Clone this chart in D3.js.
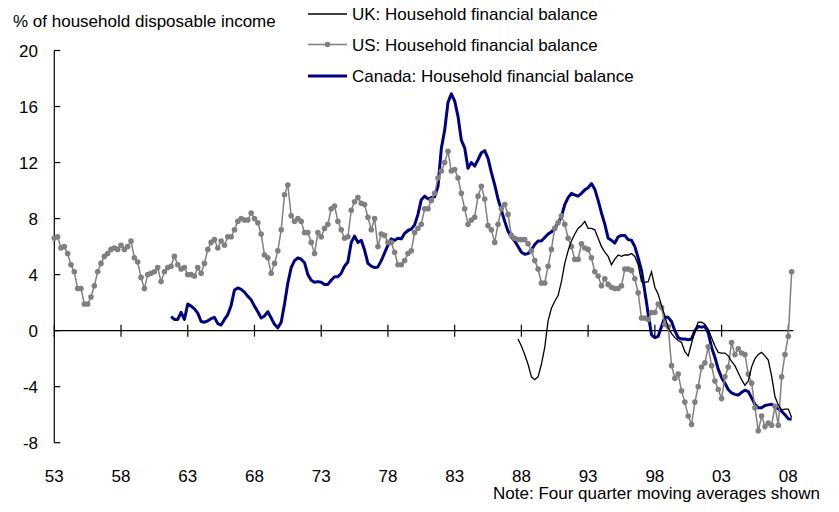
<!DOCTYPE html>
<html><head><meta charset="utf-8">
<script src="https://cdn.jsdelivr.net/npm/d3@7"></script>
<style>
body{margin:0;background:#fff}
text{font-family:"Liberation Sans",Arial,sans-serif;fill:#000}
</style>
</head><body>
<svg id="chart" width="839" height="512"></svg>
<script>
// Quarterly series, four-quarter moving averages; index 0 = 1953 Q1
const startYear = 1953;
const usStartQ = 0, canadaStartQ = 35, ukStartQ = 139;

const usValues = [
6.6,6.7,5.9,6.0,5.5,4.7,4.2,3.0,3.0,1.9,
1.9,2.4,3.2,4.2,4.8,5.3,5.5,5.8,5.9,5.8,
6.1,5.8,6.0,6.4,5.2,4.9,3.8,3.0,4.0,4.1,
4.2,4.5,3.5,4.2,4.5,4.6,5.3,4.7,4.4,4.5,
4.0,4.0,3.9,4.5,4.1,4.8,5.8,6.3,6.5,5.9,
6.4,6.1,6.7,6.7,7.2,7.8,8.0,7.9,7.9,8.4,
8.0,7.7,6.9,5.4,5.2,4.1,4.8,5.7,7.2,9.7,
10.4,8.2,7.8,8.0,7.8,7.0,7.0,6.3,5.5,7.0,
6.7,7.3,7.6,
8.7,8.9,7.8,7.2,6.6,6.7,8.6,9.2,9.5,9.1,
9.0,8.1,7.2,8.0,6.0,6.9,6.8,6.3,6.3,5.6,
4.7,4.7,5.0,5.5,5.7,7.0,7.3,7.6,8.7,8.7,
9.3,9.8,10.9,11.4,12.0,
12.8,11.4,11.5,10.9,9.8,8.7,7.6,7.9,8.1,9.6,
10.3,9.4,7.5,7.2,6.3,7.6,8.7,9.0,8.3,6.8,
6.6,6.5,6.5,6.5,6.2,5.7,5.0,4.4,3.4,3.4,
4.6,5.8,7.3,7.7,8.2,7.6,6.6,6.0,5.1,5.1,
6.2,5.9,5.8,5.2,4.2,3.9,
3.2,3.7,3.3,3.1,3.0,3.0,3.2,4.4,4.4,4.3,3.7,2.7,
0.9,0.9,0.8,1.3,1.3,1.9,1.65,0.45,0.3,-2.5,-3.4,-3.1,-4.3,-5.1,-6.1,-6.7,
-5.1,-4.0,-2.6,-2.3,-1.15,-2.5,-3.6,-4.2,-4.85,-3.3,-2.6,-0.85,-1.7,-1.3,-1.6,-1.7,-3.1,-3.75,-5.5,-7.15,
-6.1,-6.85,-6.6,-6.75,-5.4,-6.75,-3.3,-1.7,-0.4,4.2
];

const canadaValues = [
1.0,0.8,0.8,1.3,0.8,1.9,1.75,1.55,1.25,0.65,
0.6,0.7,0.85,0.95,0.5,0.4,0.8,1.15,1.8,2.9,
3.05,2.95,2.75,2.45,2.2,1.75,1.35,0.9,1.05,1.35,
0.9,0.45,0.2,0.6,1.9,3.4,4.5,5.0,5.2,5.1,
4.85,4.0,3.6,3.45,3.5,3.45,3.3,3.3,3.6,3.85,
3.85,4.1,4.6,4.9,6.3,6.75,6.3,6.45,5.75,4.8,
4.6,4.5,4.55,5.0,5.55,6.1,6.55,6.45,6.6,6.55,
6.95,7.15,7.25,7.55,8.3,9.35,9.6,9.4,9.5,9.55,
10.3,13.0,14.3,16.3,16.9,16.4,15.3,13.6,13.05,11.6,
12.0,11.75,12.2,12.7,12.85,12.3,11.3,10.4,9.4,8.6,
7.8,7.1,6.7,6.4,6.0,5.6,5.45,5.5,5.75,6.15,
6.4,6.4,6.65,6.9,7.05,7.3,7.7,8.15,9.0,9.5,
9.8,9.7,9.6,9.8,10.05,10.2,10.5,10.1,9.3,8.4,
7.6,6.6,6.45,6.25,6.7,6.8,6.8,6.5,6.45,6.0,
5.2,4.3,2.8,1.2,-0.3,-0.5,-0.4,0.3,0.95,0.95,
0.65,0.0,-0.5,-0.6,-0.6,-0.65,-0.6,0.0,0.3,0.25,
0.3,-0.15,-1.2,-1.9,-2.75,-3.35,-3.75,-4.2,-4.45,-4.55,
-4.6,-4.4,-4.25,-4.35,-4.8,-5.25,-5.5,-5.5,-5.35,-5.3,
-5.25,-5.4,-5.6,-5.75,-6.0,-6.3,-6.3
];

const ukValues = [
-0.6,-1.1,-1.7,-2.4,-3.3,-3.5,-3.3,-2.4,-1.2,0.7,
1.6,2.1,2.5,3.5,4.8,5.7,6.4,6.9,7.3,7.5,
7.8,7.3,7.3,7.2,6.6,6.0,5.6,5.3,4.7,5.1,
5.4,5.3,5.4,5.4,5.5,5.3,4.7,3.5,3.45,3.5,
4.2,3.1,2.6,1.8,1.05,0.2,-0.2,-0.5,-0.7,-0.85,
-1.5,-1.8,-0.9,0.0,0.6,0.6,0.45,0.1,-0.5,-1.1,
-1.55,-1.6,-1.6,-1.8,-2.2,-2.5,-3.0,-3.5,-3.9,-3.6,
-2.6,-2.0,-1.7,-1.55,-1.8,-2.1,-3.25,-4.7,-5.3,-5.65,
-5.6,-5.6,-6.2
];

const xTickYears = [1953,1958,1963,1968,1973,1978,1983,1988,1993,1998,2003,2008];
const xTickLabels = ["53","58","63","68","73","78","83","88","93","98","03","08"];
const yTickValues = [-8,-4,0,4,8,12,16,20];
const yTickLabels = ["-8","-4","0","4","8","12","16","20"];

const seriesNames = ["UK: Household financial balance","US: Household financial balance","Canada: Household financial balance"];
const yTitle = "% of household disposable income";
const note = "Note: Four quarter moving averages shown";

const toPoints = (vals, startQ) => vals.map((v, k) => ({t: startYear + (startQ + k) / 4, v}));
const us = toPoints(usValues, usStartQ);
const canada = toPoints(canadaValues, canadaStartQ);
const uk = toPoints(ukValues, ukStartQ);

const svg = d3.select("#chart");
const x = d3.scaleLinear().domain([1953, 2008]).range([54.3, 788.3]);
const y = d3.scaleLinear().domain([-8, 20]).range([442.7, 50.5]);

// y axis
const yAxisG = svg.append("g").attr("transform", `translate(${x(1953)},0)`);
yAxisG.append("line").attr("x1",0).attr("x2",0).attr("y1",y(20)).attr("y2",y(-8))
  .attr("stroke","#000").attr("stroke-width",1.2);
yAxisG.selectAll("line.t").data(yTickValues).join("line").attr("class","t")
  .attr("x1",0).attr("x2",6).attr("y1",d=>y(d)).attr("y2",d=>y(d))
  .attr("stroke","#000").attr("stroke-width",1.2);
svg.append("g").selectAll("text").data(yTickValues).join("text")
  .attr("x", 38).attr("y", d => y(d) + 6.5).attr("text-anchor","end")
  .attr("font-size","17px").text((d,i) => yTickLabels[i]);

// x axis at zero
const xAxisG = svg.append("g");
xAxisG.append("line").attr("x1",x(1953)).attr("x2",x(2008.38)).attr("y1",y(0)).attr("y2",y(0))
  .attr("stroke","#000").attr("stroke-width",1.2);
xAxisG.selectAll("line.t").data(xTickYears).join("line").attr("class","t")
  .attr("x1",d=>x(d)).attr("x2",d=>x(d)).attr("y1",y(0)-6).attr("y2",y(0)+6)
  .attr("stroke","#000").attr("stroke-width",1.2);
svg.append("g").selectAll("text").data(xTickYears).join("text")
  .attr("x", d => x(d)).attr("y", 481.5).attr("text-anchor","middle")
  .attr("font-size","17px").text((d,i) => xTickLabels[i]);

// series
const line = d3.line().x(d => x(d.t)).y(d => y(d.v));
svg.append("path").datum(canada).attr("d", line).attr("fill","none")
  .attr("stroke","#000080").attr("stroke-width",3).attr("stroke-linejoin","round");
svg.append("path").datum(us).attr("d", line).attr("fill","none")
  .attr("stroke","#808080").attr("stroke-width",1.5);
svg.append("g").selectAll("circle").data(us).join("circle")
  .attr("cx", d => x(d.t)).attr("cy", d => y(d.v)).attr("r", 2.8).attr("fill","#808080");
svg.append("path").datum(uk).attr("d", line).attr("fill","none")
  .attr("stroke","#000").attr("stroke-width",1.3);

// titles
svg.append("text").attr("x",13).attr("y",26.5).attr("font-size","17px").text(yTitle);
svg.append("text").attr("x",820).attr("y",499).attr("text-anchor","end").attr("font-size","17px").text(note);

// legend
const legendRows = [
  {name: seriesNames[0], color:"#000", w:1.3, dot:false},
  {name: seriesNames[1], color:"#808080", w:1.5, dot:true},
  {name: seriesNames[2], color:"#000080", w:3, dot:false}
];
const lg = svg.append("g");
const rowY = [14, 44.5, 76];
legendRows.forEach((r,i) => {
  lg.append("line").attr("x1",308).attr("x2",347).attr("y1",rowY[i]).attr("y2",rowY[i])
    .attr("stroke",r.color).attr("stroke-width",r.w);
  if (r.dot) lg.append("circle").attr("cx",327.5).attr("cy",rowY[i]).attr("r",2.8).attr("fill",r.color);
  lg.append("text").attr("x",352).attr("y",rowY[i]+6).attr("font-size","17px").text(r.name);
});
</script>
</body></html>
